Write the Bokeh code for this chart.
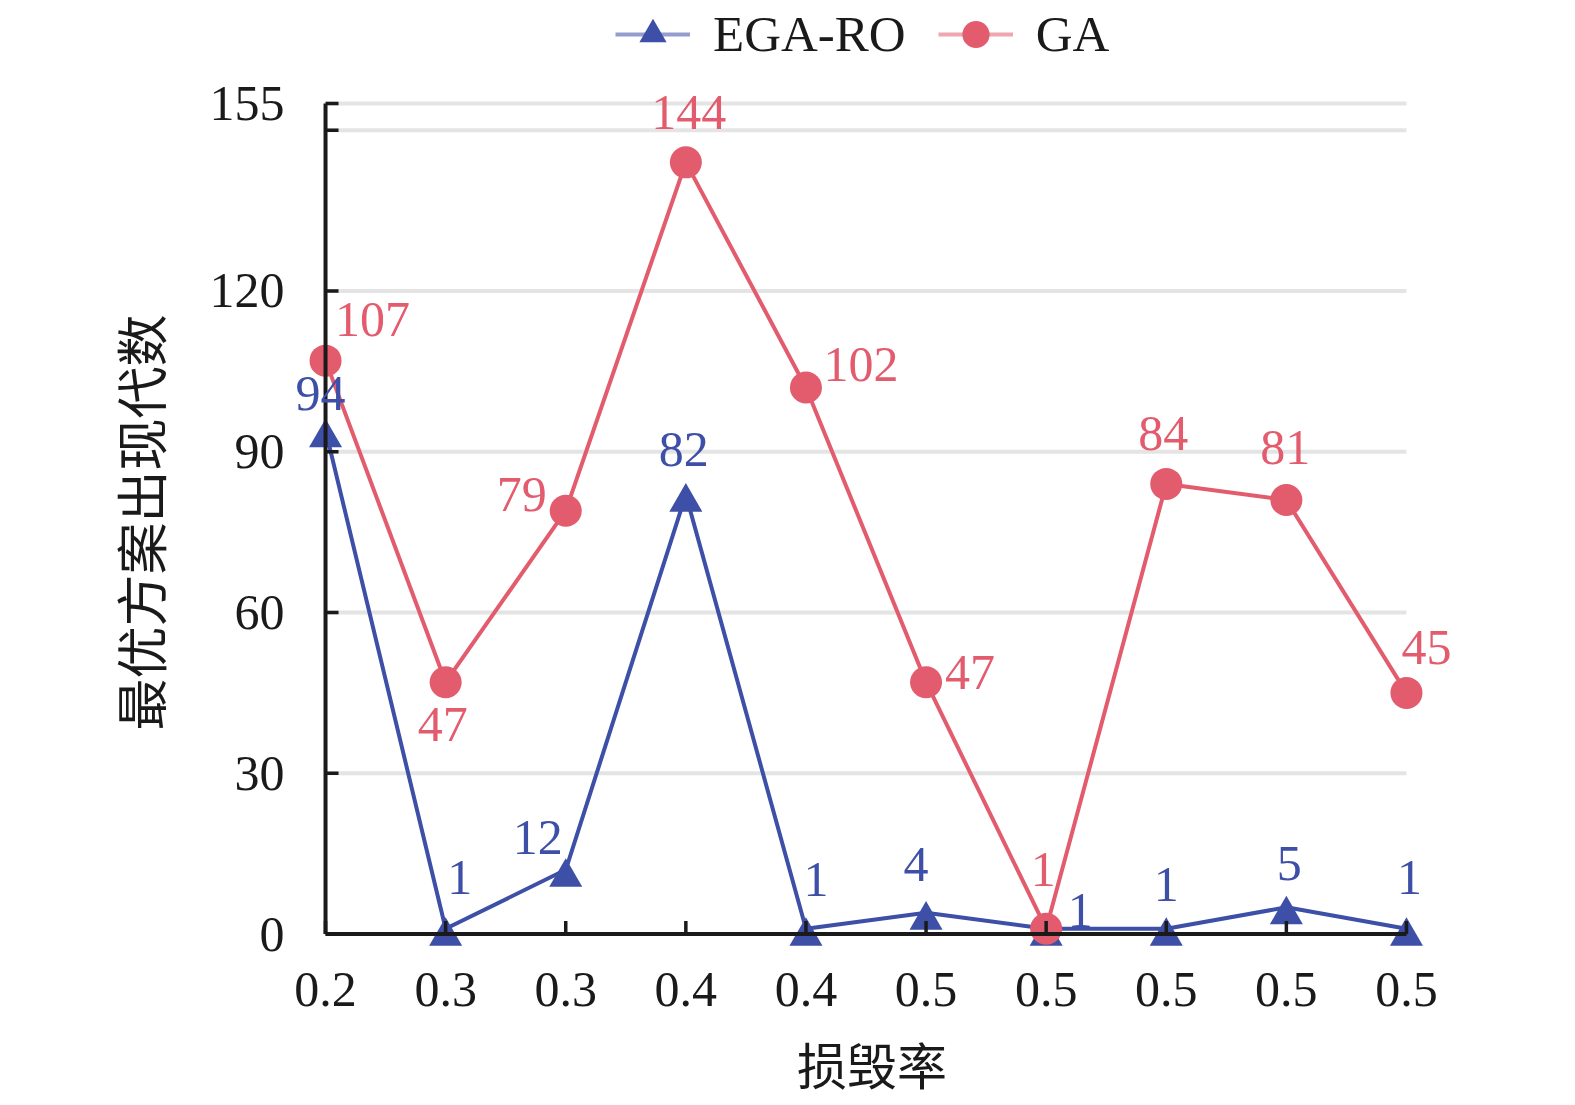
from math import pi, nan
from bokeh.plotting import figure
from bokeh.models import Range1d, FixedTicker, ColumnDataSource, Legend, LegendItem, Title
from bokeh.core.properties import value
from bokeh.transform import dodge
from bokeh.embed import file_html
from bokeh.resources import INLINE

# ---- data ----
x_labels = ["0.2", "0.3", "0.3", "0.4", "0.4", "0.5", "0.5", "0.5", "0.5", "0.5"]
ega_ro = [94, 1, 12, 82, 1, 4, 1, 1, 5, 1]
ga = [107, 47, 79, 144, 102, 47, 1, 84, 81, 45]
y_tick_values = [0, 30, 60, 90, 120, 155]
grid_values = [30, 60, 90, 120, 150, 155]
y_max = 155
x_title = "损毁率"
y_title = "最优方案出现代数"

# ---- label placement (screen px offsets, styling only) ----
ega_dx = [-5, 14, -28, -2, 10, -10, 34, 0, 3, 3]
ega_dy = [-37, -51, -32, -45, -49, -48, -18, -44, -44, -51]
ga_dx = [47, -3, -44, 3, 55, 44, -3, -3, -1, 20]
ga_dy = [-41, 42, -16, -50, -23, -10, -59, -50, -52, -45]

BLUE = "#3d4fa6"
RED = "#e25c6e"
AXIS = "#1a1a1a"
GRID = "#e4e4e4"
SERIF = "Liberation Serif"
CJK = "Noto Sans CJK SC"

FRAME_W, FRAME_H = 1165, 947
LEG_H = 68

xs = list(range(len(x_labels)))
n_last = xs[-1]

src = ColumnDataSource(dict(
    x=xs, ega=ega_ro, ga=ga,
    ega_t=[str(v) for v in ega_ro], ga_t=[str(v) for v in ga],
    ega_dx=ega_dx, ega_dy=ega_dy, ga_dx=ga_dx, ga_dy=ga_dy,
))

p = figure(frame_width=FRAME_W, frame_height=FRAME_H,
           x_range=Range1d(-0.3, n_last + 0.4), y_range=Range1d(-2.5, y_max + 19.2),
           output_backend="svg", toolbar_location=None,
           min_border_left=289, min_border_top=0, min_border_right=98, min_border_bottom=140,
           outline_line_color=None, background_fill_color="white", border_fill_color="white")
p.xgrid.visible = False
p.ygrid.visible = False

# grid lines limited to the axes extent
p.segment(x0=0, x1=n_last, y0=grid_values, y1=grid_values, line_color=GRID, line_width=4)

# series
p.line("x", "ega", source=src, line_color=BLUE, line_width=4)
p.scatter("x", dodge("ega", -1.4, range=p.y_range), source=src, marker="triangle",
          size=33, fill_color=BLUE, line_color=BLUE, line_width=0)
p.line("x", "ga", source=src, line_color=RED, line_width=4)
p.scatter("x", "ga", source=src, marker="circle", size=32, fill_color=RED, line_color=RED, line_width=0)

# axis lines and inside ticks
p.segment(x0=[0, 0], y0=[0, 0], x1=[n_last, 0], y1=[0, y_max], line_color=AXIS, line_width=4)
tick_ys = sorted(set([0] + y_tick_values + grid_values))
p.ray(x=[0] * len(tick_ys), y=tick_ys, length=13, length_units="screen", angle=0,
      line_color=AXIS, line_width=3.5)
p.ray(x=xs, y=[0] * len(xs), length=13, length_units="screen", angle=pi / 2,
      line_color=AXIS, line_width=3.5)

# data labels
p.text("x", "ega", text="ega_t", source=src, x_offset="ega_dx", y_offset="ega_dy",
       text_align="center", text_baseline="middle", text_color=BLUE,
       text_font=value(SERIF), text_font_size="50px")
p.text("x", "ga", text="ga_t", source=src, x_offset="ga_dx", y_offset="ga_dy",
       text_align="center", text_baseline="middle", text_color=RED,
       text_font=value(SERIF), text_font_size="50px")

# axes (labels only)
for ax in (p.xaxis[0], p.yaxis[0]):
    ax.axis_line_color = None
    ax.major_tick_line_color = None
    ax.minor_tick_line_color = None
    ax.major_tick_in = 0
    ax.major_tick_out = 0
    ax.major_label_text_font = SERIF
    ax.major_label_text_font_size = "50px"
    ax.major_label_text_color = AXIS
    ax.axis_label_text_font = CJK
    ax.axis_label_text_font_size = "50px"
    ax.axis_label_text_font_style = "normal"
    ax.axis_label_text_color = AXIS

p.xaxis.ticker = FixedTicker(ticks=xs)
p.xaxis.major_label_overrides = {i: lab for i, lab in enumerate(x_labels)}
p.xaxis.major_label_standoff = 25
p.xaxis.axis_label = x_title
p.xaxis.axis_label_standoff = 18

p.yaxis.ticker = FixedTicker(ticks=y_tick_values)
p.yaxis.major_label_standoff = 5

# y-axis title, placed along the value axis (not the taller frame)
p.add_layout(Title(text=y_title, align="left", offset=217, standoff=60,
                   text_font=CJK, text_font_size="52px", text_font_style="normal",
                   text_color=AXIS), "left")

# legend (proxy renderers with one invisible point so legend glyphs are drawn)
l1 = p.line(x=[nan], y=[nan], line_color=BLUE, line_alpha=0.55, line_width=4)
s1 = p.scatter(x=[nan], y=[nan], marker="triangle", size=32, fill_color=BLUE, line_color=BLUE, line_width=0)
l2 = p.line(x=[nan], y=[nan], line_color=RED, line_alpha=0.55, line_width=4)
s2 = p.scatter(x=[nan], y=[nan], marker="circle", size=32, fill_color=RED, line_color=RED, line_width=0)
legend = Legend(items=[LegendItem(label="EGA-RO", renderers=[l1, s1]),
                       LegendItem(label="GA", renderers=[l2, s2])],
                orientation="horizontal",
                location=(326, FRAME_H - LEG_H),
                label_text_font=SERIF, label_text_font_size="51px", label_text_color=AXIS,
                glyph_width=75, glyph_height=LEG_H, label_standoff=23, spacing=32,
                padding=0, margin=0, border_line_color=None, background_fill_alpha=0)
p.add_layout(legend, "center")

open("out.html", "w").write(file_html(p, INLINE))
